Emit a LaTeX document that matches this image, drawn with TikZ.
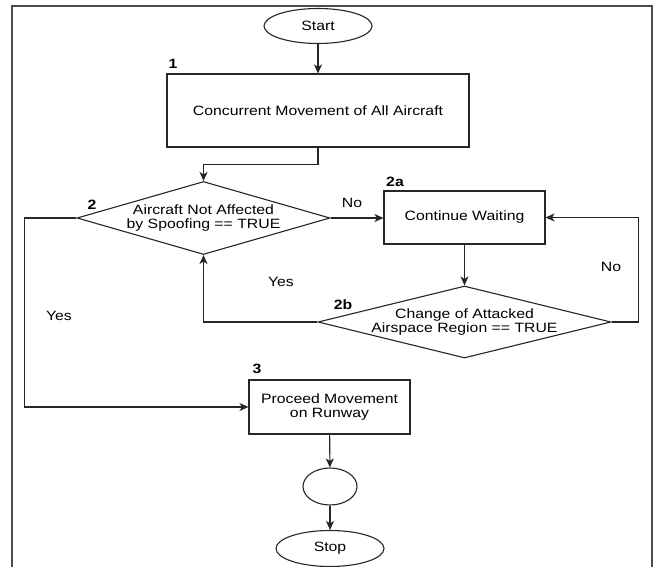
\documentclass[tikz,border=0pt]{standalone}
\usepackage{fontspec}
\setmainfont{Liberation Sans}[FakeStretch=1.17]
\usetikzlibrary{shapes.geometric,arrows.meta}

\begin{document}
\begin{tikzpicture}[
    x=1pt, y=-1pt,
    every node/.style={font=\fontsize{13.5}{14}\selectfont, text=black},
    flow/.style={draw=black!85, line width=1.1pt},
    arr/.style={flow, -{Stealth[length=9pt,width=8pt,inset=2.5pt]}},
    terminal/.style={ellipse, flow, inner sep=0pt},
    procbox/.style={rectangle, flow, inner sep=0pt, align=center},
    decision/.style={diamond, flow, inner sep=0pt},
    tag/.style={font=\fontsize{13.5}{14}\selectfont\bfseries, inner sep=0pt},
    plain/.style={inner sep=0pt, align=center},
  ]
  \useasboundingbox (0,0) rectangle (661,567);
  \fill[white] (0,0) rectangle (661,567);

  % surrounding frame (open at the bottom edge)
  \draw[draw=black!70, line width=1.3pt] (12,567) -- (12,6) -- (652,6) -- (652,567);

  % nodes
  \node[terminal, minimum width=108pt, minimum height=35pt] (start) at (318,26) {Start};
  \node[procbox, minimum width=302pt, minimum height=73pt] (b1) at (318,110.5)
       {Concurrent Movement of All Aircraft};
  \node[decision, minimum width=253pt, minimum height=73pt] (d2) at (203.5,218) {};
  \node[plain] (d2t) at (203.5,218) {Aircraft Not Affected\\by Spoofing == TRUE};
  \node[procbox, minimum width=161pt, minimum height=53pt] (b2a) at (464.5,217.5) {Continue Waiting};
  \node[decision, minimum width=293pt, minimum height=72pt] (d2b) at (464.5,322) {};
  \node[plain] (d2bt) at (464.5,322) {Change of Attacked\\Airspace Region == TRUE};
  \node[procbox, minimum width=161pt, minimum height=54pt] (b3) at (329.5,407)
       {Proceed Movement\\on Runway};
  \node[terminal, minimum width=54pt, minimum height=37pt] (circ) at (330,486.5) {};
  \node[terminal, minimum width=108pt, minimum height=36pt] (stop) at (330,548.5) {Stop};

  % step numbers
  \node[tag] (n1) at (173,64) {1};
  \node[tag] (n2) at (92,205) {2};
  \node[tag] (n2a) at (395,182) {2a};
  \node[tag] (n2b) at (343,305) {2b};
  \node[tag] (n3) at (257,369) {3};

  % branch labels
  \node[plain] (lno1) at (352,203) {No};
  \node[plain] (lno2) at (611,267) {No};
  \node[plain] (lyes1) at (281,282) {Yes};
  \node[plain] (lyes2) at (59,316) {Yes};

  % connectors
  \draw[arr] (start) -- (b1);
  \draw[arr] (b1.south) -- ++(0,17) -| (d2.north);
  \draw[arr] (d2.east) -- (d2.east -| b2a.west);
  \draw[arr] (b2a) -- (d2b);
  \draw[arr] (d2b.east) -- ++(27,0) |- (b2a.east);
  \draw[arr] (d2b.west) -| (d2.south);
  \draw[arr] (d2.west) -- ++(-52,0) |- (b3.west);
  \draw[arr] (b3) -- (circ);
  \draw[arr] (circ) -- (stop);
\end{tikzpicture}
\end{document}
